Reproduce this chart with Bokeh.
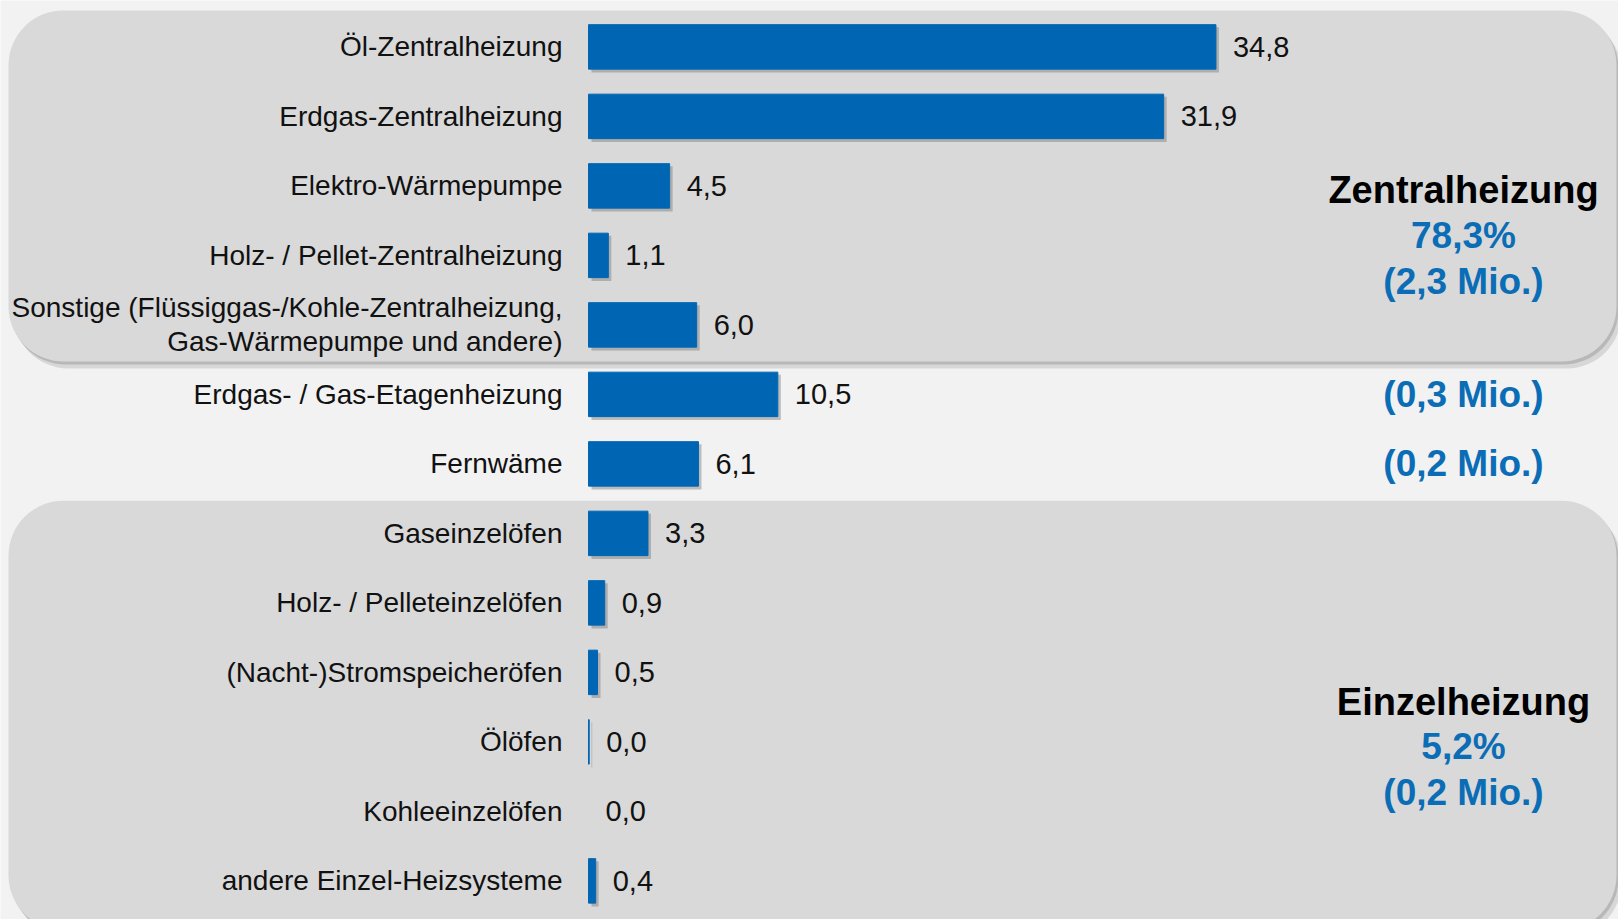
from bokeh.plotting import figure
from bokeh.models import ColumnDataSource, Range1d
from bokeh.core.properties import value
from bokeh.embed import file_html
from bokeh.resources import INLINE

# ---------------- data ----------------
categories = [
    "Öl-Zentralheizung",
    "Erdgas-Zentralheizung",
    "Elektro-Wärmepumpe",
    "Holz- / Pellet-Zentralheizung",
    "Sonstige (Flüssiggas-/Kohle-Zentralheizung,\nGas-Wärmepumpe und andere)",
    "Erdgas- / Gas-Etagenheizung",
    "Fernwäme",
    "Gaseinzelöfen",
    "Holz- / Pelleteinzelöfen",
    "(Nacht-)Stromspeicheröfen",
    "Ölöfen",
    "Kohleeinzelöfen",
    "andere Einzel-Heizsysteme",
]
values = [34.8, 31.9, 4.5, 1.1, 6.0, 10.5, 6.1, 3.3, 0.9, 0.5, 0.04, 0.0, 0.4]

group_names = ["Zentralheizung", "Einzelheizung"]
group_shares = ["78,3%", "5,2%"]
group_mio = ["(2,3 Mio.)", "(0,2 Mio.)"]
group_first = [0, 7]
group_last = [4, 12]

single_rows = [5, 6]
single_mio = ["(0,3 Mio.)", "(0,2 Mio.)"]

# ---------------- layout helpers ----------------
W, H = 1618, 919
PX = 18.03          # pixels per value unit
ROW = 69.5          # pixels per row
X0 = 588            # pixel of value 0
Y0 = 46.4           # pixel of first row center

def dx(px):
    return px / PX

def dy(px):
    return px / ROW

FONT = value("Liberation Sans")
BG = "#f2f2f2"
PANEL = "#d9d9d9"
BAR = "#0066b3"
BLUE = "#0b6db5"

p = figure(
    width=W, height=H,
    x_range=Range1d(-X0 / PX, (W - X0) / PX),
    y_range=Range1d(start=(H - Y0) / ROW, end=-Y0 / ROW),
    output_backend="svg", toolbar_location=None,
    x_axis_location=None, y_axis_location=None,
    min_border=0,
)
p.grid.visible = False
p.outline_line_color = None
p.background_fill_color = BG
p.border_fill_color = BG

# ---------------- panels ----------------
pan_left = dx(8 - X0)
pan_right = dx(1616 - X0)
pan_top = [group_first[0] - 0.525, group_first[1] - 0.47]
pan_bottom = [group_last[0] + 0.527, group_last[1] + 0.71]

p.quad(left=[pan_left + dx(5)] * 2, right=[pan_right + dx(5)] * 2,
       top=[t + dy(7) for t in pan_top], bottom=[b + dy(7) for b in pan_bottom],
       fill_color="#b5b5b5", fill_alpha=0.45, line_color=None, border_radius=55)
p.quad(left=[pan_left + dx(2)] * 2, right=[pan_right + dx(2)] * 2,
       top=[t + dy(3) for t in pan_top], bottom=[b + dy(3) for b in pan_bottom],
       fill_color="#999999", fill_alpha=0.5, line_color=None, border_radius=55)
p.quad(left=[pan_left] * 2, right=[pan_right] * 2, top=pan_top, bottom=pan_bottom,
       fill_color=PANEL, line_color=None, border_radius=55)

# ---------------- bars ----------------
rows = list(range(len(categories)))
labels = [f"{v:.1f}".replace(".", ",") for v in values]
src = ColumnDataSource(dict(
    y=rows, v=values, cat=categories, lab=labels,
    la=[1.0 if v > 0 else 0.0 for v in values],
))

shadow = ColumnDataSource(dict(
    y=[r + dy(3) for r in rows],
    l=[dx(3) if v > 0 else 0 for v in values],
    r=[v + dx(3) if v > 0 else 0 for v in values],
))
p.hbar(y="y", left="l", right="r", height=0.65, source=shadow,
       fill_color="#7a7a7a", fill_alpha=0.45, line_color=None)
p.hbar(y="y", left=0, right="v", height=0.64, source=src,
       fill_color=BAR, line_color=BAR, line_width=1, line_alpha="la")

# category labels
p.text(x=dx(562 - X0), y="y", text="cat", source=src,
       text_align="right", text_baseline="middle",
       text_font=FONT, text_font_size="28px", text_color="#111111",
       text_line_height=1.1)

# value labels
p.text(x="v", y="y", text="lab", source=src, x_offset=17,
       text_align="left", text_baseline="middle",
       text_font=FONT, text_font_size="29px", text_color="#111111")

# ---------------- group annotations ----------------
cx = dx(1463 - X0)
share_rows = [2.71, 10.07]
p.text(x=[cx] * 2, y=share_rows, text=group_names, y_offset=-45,
       text_align="center", text_baseline="middle",
       text_font=FONT, text_font_style="bold", text_font_size="38px",
       text_color="#000000")
p.text(x=[cx] * 2, y=share_rows, text=group_shares,
       text_align="center", text_baseline="middle",
       text_font=FONT, text_font_style="bold", text_font_size="37px",
       text_color=BLUE)
p.text(x=[cx] * 2, y=share_rows, text=group_mio, y_offset=46,
       text_align="center", text_baseline="middle",
       text_font=FONT, text_font_style="bold", text_font_size="37px",
       text_color=BLUE)
p.text(x=[cx] * 2, y=single_rows, text=single_mio,
       text_align="center", text_baseline="middle",
       text_font=FONT, text_font_style="bold", text_font_size="37px",
       text_color=BLUE)

open("out.html", "w").write(file_html(p, INLINE))
